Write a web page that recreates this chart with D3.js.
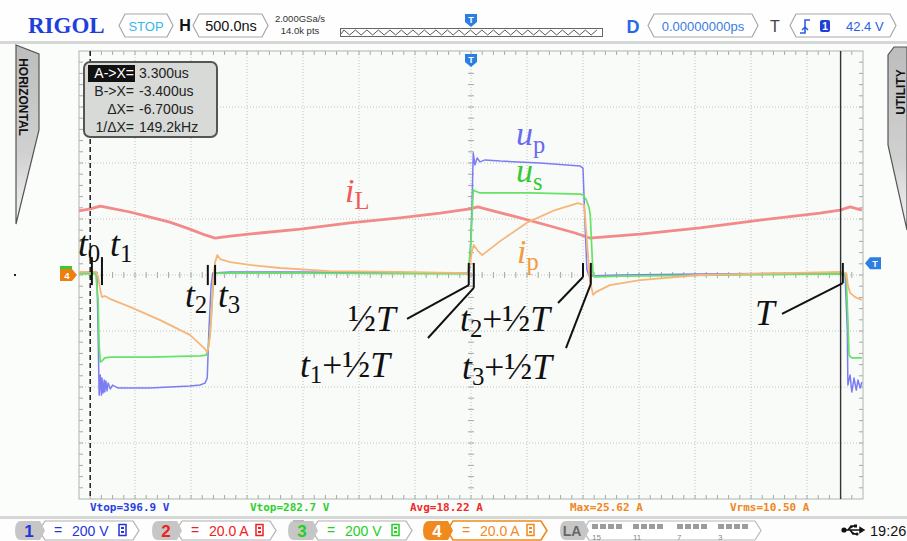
<!DOCTYPE html>
<html><head><meta charset="utf-8">
<script src="https://cdn.jsdelivr.net/npm/d3@7/dist/d3.min.js"></script>
<style>
html,body{margin:0;padding:0;background:#fff;}
svg{display:block;font-family:"Liberation Sans",Arial,sans-serif;}
</style></head><body>
<svg id="chart" width="907" height="541"></svg>
<script>
// ================= DATA (time in ns, voltages in V, currents in A) =================
const upT=[-3500,-3360,-3340,-3330,-3320,-3310,-3300,-3295,-3285,-3275,-3270,-3260,-3250,-3240,-3220,-3200,-3150,-3045,-2865,-2690,-2510,-2420,-2375,-2355,-2340,-2320,-2305,-2150,-1525,-635,-25,-10,10,20,35,55,80,125,260,615,975,1000,1020,1035,1055,1330,2045,3320,3340,3360,3365,3385,3400,3420,3440,3455,3475,3490];
const upV=[11,11,9,-196,-429,-357,-429,-368,-421,-375,-418,-379,-414,-386,-407,-393,-404,-404,-404,-400,-396,-393,-386,-368,-196,-36,7,11,11,7,7,25,268,436,393,418,404,411,407,400,389,382,161,18,-4,0,4,7,0,-196,-393,-357,-418,-368,-411,-375,-404,-382];

const usT=[-3500,-3350,-3330,-3320,-3310,-3295,-3270,-3220,-2865,-2420,-2365,-2350,-2330,-2310,-2295,-2275,-1525,-25,0,20,35,80,525,975,1000,1030,1055,1065,1075,1090,1115,1330,3295,3350,3365,3375,3400,3490];
const usV=[4,4,-89,-250,-311,-307,-296,-293,-293,-289,-286,-268,-214,-89,-4,7,7,4,125,304,300,293,293,289,286,268,239,214,125,0,-7,-4,4,-4,-161,-286,-296,-296];

const ipT=[-3500,-3350,-3330,-3310,-3295,-3270,-3220,-3045,-2775,-2510,-2375,-2355,-2340,-2320,-2305,-2285,-2265,-2240,-2150,-1975,-1705,-1260,-635,-25,-10,10,25,55,100,260,510,750,955,1010,1035,1060,1090,1115,1240,1510,2045,3295,3350,3365,3385,3430,3490];
const ipA=[1.1,1.1,-0.4,-5.4,-7.9,-7.5,-8.6,-11.4,-16.1,-21.4,-26.4,-27.5,-25,-16.1,-3.6,4.6,7.1,5.7,4.6,3.6,2.5,1.4,1.1,0.7,3.6,8.9,10.7,8.9,7.1,12.1,18.9,23.2,25.7,25,12.5,-1.8,-7.1,-6.1,-3.6,-1.8,0,1.1,0.7,-3.6,-6.4,-7.9,-8.9];

const iLT=[-3500,-3400,-3310,-3220,-3045,-2865,-2690,-2510,-2375,-2285,-2150,-1885,-1525,-1080,-635,-275,-10,60,170,440,705,930,1060,1195,1510,2045,2580,3115,3295,3385,3490];
const iLA=[22.9,23.6,24.6,23.9,22.5,20.7,18.9,16.4,14.3,13.2,13.9,15,16.4,18.6,20.4,22.1,23.6,24.3,23.2,20.4,17.5,15,13.2,13.6,14.6,16.8,19.6,22.1,23.2,24.3,23.2];

const measLabels=["Vtop=396.9 V","Vtop=282.7 V","Avg=18.22 A","Max=25.62 A","Vrms=10.50 A"];
const measColors=["#2b40e0","#2fcf2f","#f02a2a","#f0861e","#f0861e"];
const cursorLabels=["A->X=","B->X=","\u0394X=","1/\u0394X="];
const cursorValues=["3.300us","-3.400us","-6.700us","149.2kHz"];
const cursorA=3300, cursorB=-3400;
const trigLevelV=42.4;
const chanNames=["1","2","3","4"];
const chanScales=["200 V","20.0 A","200 V","20.0 A"];
const chanColors=["#2535d8","#f02020","#22d022","#f08a1e"];
const laNums=["15","11","7","3"];

// annotation anchors (time ns, value V on the voltage scale)
const markTimes=[-3385,-3295,-2350,-2285,-20,25,1000,1070,3320];
const markTop=[64,64,36,36,43,43,43,43,43];
const markBot=[-36,-36,-36,-36,-36,-46,-7,-32,-29];
const pointers=[ // from marker bottom to label
  [-20,-36,-571,-157],[25,-46,-384,-225],[1000,-7,777,-100],[1070,-32,848,-261],[3320,-29,2777,-139]];

// ================= SETUP =================
const svg=d3.select("#chart");
const W=907,H=541;
const L=79,R=863,T=51,B=499;
const x=d3.scaleLinear().domain([-3500,3500]).range([L,R]);
const yV=d3.scaleLinear().domain([-800,800]).range([B,T]);
const yA=d3.scaleLinear().domain([-80,80]).range([B,T]);

svg.append("rect").attr("width",W).attr("height",H).attr("fill","#fbfdfb");
svg.append("rect").attr("width",W).attr("height",41).attr("fill","#fefefe");
svg.append("rect").attr("y",41).attr("width",W).attr("height",3).attr("fill","#d6d8d6");
svg.append("rect").attr("y",516).attr("width",W).attr("height",3).attr("fill","#d6d8d6");
svg.append("rect").attr("y",519).attr("width",W).attr("height",22).attr("fill","#fdfdfd");

function hexBox(x0,y0,w,h,stroke,fill,sw){
  const k=6;
  return svg.append("path").attr("d",`M${x0+k},${y0}H${x0+w-k}L${x0+w},${y0+h/2}L${x0+w-k},${y0+h}H${x0+k}L${x0},${y0+h/2}Z`)
    .attr("fill",fill).attr("stroke",stroke).attr("stroke-width",sw||1);
}

// ================= TOP BAR =================
svg.append("text").attr("x",28).attr("y",33).attr("font-family","'Liberation Serif',serif").attr("font-weight","bold")
  .attr("font-size",23).attr("fill","#1e3fdc").text("RIGOL");
hexBox(119,14,54,23,"#a8a8a8","#fff",1.2);
svg.append("text").attr("x",146).attr("y",30.5).attr("text-anchor","middle").attr("font-size",13).attr("fill","#38b6ec").text("STOP");
svg.append("text").attr("x",185).attr("y",31).attr("text-anchor","middle").attr("font-size",16).attr("font-weight","bold").attr("fill","#111").text("H");
hexBox(193,14,75,23,"#a8a8a8","#fff",1.2);
svg.append("text").attr("x",231).attr("y",31).attr("text-anchor","middle").attr("font-size",14.5).attr("fill","#111").text("500.0ns");
svg.append("text").attr("x",300).attr("y",22).attr("text-anchor","middle").attr("font-size",9.5).attr("fill","#333").text("2.000GSa/s");
svg.append("text").attr("x",300).attr("y",34).attr("text-anchor","middle").attr("font-size",9.5).attr("fill","#333").text("14.0k pts");
svg.append("rect").attr("x",340.5).attr("y",28.5).attr("width",262).attr("height",8).attr("fill","#fff").attr("stroke","#666");
{
  let d="M341,34"; let up=true;
  for(let xx=341+2.9;xx<=602;xx+=5.75){ d+=`L${xx},${up?30:35}`; up=!up; }
  svg.append("path").attr("d",d).attr("fill","none").attr("stroke","#444").attr("stroke-width",0.9);
}
function tMarkDown(cx,y0){
  svg.append("path").attr("d",`M${cx-6},${y0}h12v8l-6,5l-6,-5z`).attr("fill","#2b7fe3");
  svg.append("text").attr("x",cx).attr("y",y0+9).attr("text-anchor","middle").attr("font-size",9).attr("font-weight","bold").attr("fill","#fff").text("T");
}
tMarkDown(x(0),14);
svg.append("text").attr("x",633).attr("y",33).attr("text-anchor","middle").attr("font-size",18).attr("font-weight","bold").attr("fill","#2a66e6").text("D");
hexBox(648,14,110,23,"#a8a8a8","#fff",1.2);
svg.append("text").attr("x",703).attr("y",31).attr("text-anchor","middle").attr("font-size",13).attr("fill","#3a7be2").text("0.00000000ps");
svg.append("text").attr("x",775).attr("y",32).attr("text-anchor","middle").attr("font-size",16).attr("fill","#444").text("T");
hexBox(790,14,106,23,"#a8a8a8","#fff",1.2);
svg.append("path").attr("d","M800,33h5v-13h5M805,27l-3,3M805,27l3,3").attr("fill","none").attr("stroke","#2a5fe0").attr("stroke-width",1.6);
svg.append("rect").attr("x",820).attr("y",20).attr("width",10).attr("height",12).attr("rx",2).attr("fill","#1f3fd8");
svg.append("text").attr("x",825).attr("y",30).attr("text-anchor","middle").attr("font-size",10).attr("font-weight","bold").attr("fill","#fff").text("1");
svg.append("text").attr("x",846).attr("y",31).attr("font-size",13).attr("fill","#2a5fe0").text(trigLevelV.toFixed(1)+" V");

// ================= SIDE TABS =================
const gdef=svg.append("defs");
const lg=gdef.append("linearGradient").attr("id","tabg").attr("x1",0).attr("y1",0).attr("x2",0).attr("y2",1);
lg.append("stop").attr("offset","0").attr("stop-color","#bdbdbd");
lg.append("stop").attr("offset","0.6").attr("stop-color","#d0d0d0");
lg.append("stop").attr("offset","1").attr("stop-color","#f4f4f4");
svg.append("path").attr("d","M16,45L39,54L39,130L16,224Z").attr("fill","url(#tabg)").attr("stroke","#555").attr("stroke-width",1.2);
svg.append("text").attr("transform","translate(23,97) rotate(90)").attr("text-anchor","middle").attr("dy","0.35em")
  .attr("font-size",12).attr("font-weight","bold").attr("fill","#111").text("HORIZONTAL");
svg.append("path").attr("d","M907,47L894,47L888,55L888,145L907,230Z").attr("fill","url(#tabg)").attr("stroke","#555").attr("stroke-width",1.2);
svg.append("text").attr("transform","translate(901,92) rotate(-90)").attr("text-anchor","middle").attr("dy","0.35em")
  .attr("font-size",12).attr("font-weight","bold").attr("fill","#111").text("UTILITY");
svg.append("rect").attr("x",14).attr("y",274).attr("width",2).attr("height",2).attr("fill","#222");

// ================= GRID =================
const grid=svg.append("g");
grid.append("rect").attr("x",L).attr("y",T).attr("width",R-L).attr("height",B-T).attr("fill","#f9fbf9");
const xDiv=d3.range(-3000,3001,500), yDiv=d3.range(-600,601,200);
grid.selectAll(".vg").data(xDiv).join("line").attr("x1",d=>x(d)).attr("x2",d=>x(d)).attr("y1",T).attr("y2",B)
  .attr("stroke","#c2c4c2").attr("stroke-dasharray","1,2");
grid.selectAll(".hg").data(yDiv).join("line").attr("y1",d=>yV(d)).attr("y2",d=>yV(d)).attr("x1",L).attr("x2",R)
  .attr("stroke","#c2c4c2").attr("stroke-dasharray","1,2");
const xMinor=d3.range(-3400,3401,100), yMinor=d3.range(-760,761,40);
const tk="#a6a8a6";
grid.selectAll(".cx").data(xMinor).join("line").attr("x1",d=>x(d)).attr("x2",d=>x(d)).attr("y1",yV(0)-3).attr("y2",yV(0)+3).attr("stroke",tk);
grid.selectAll(".cy").data(yMinor).join("line").attr("y1",d=>yV(d)).attr("y2",d=>yV(d)).attr("x1",x(0)-3).attr("x2",x(0)+3).attr("stroke",tk);
grid.selectAll(".tx").data(xMinor).join("line").attr("x1",d=>x(d)).attr("x2",d=>x(d)).attr("y1",T).attr("y2",T+4).attr("stroke",tk);
grid.selectAll(".bx").data(xMinor).join("line").attr("x1",d=>x(d)).attr("x2",d=>x(d)).attr("y1",B-4).attr("y2",B).attr("stroke",tk);
grid.selectAll(".ly").data(yMinor).join("line").attr("y1",d=>yV(d)).attr("y2",d=>yV(d)).attr("x1",L).attr("x2",L+4).attr("stroke",tk);
grid.selectAll(".ry").data(yMinor).join("line").attr("y1",d=>yV(d)).attr("y2",d=>yV(d)).attr("x1",R-4).attr("x2",R).attr("stroke",tk);
grid.append("rect").attr("x",L).attr("y",T).attr("width",R-L).attr("height",B-T).attr("fill","none").attr("stroke","#b2b4b2");

// ================= TRACES =================
gdef.append("clipPath").attr("id","clipG").append("rect").attr("x",L).attr("y",T).attr("width",R-L).attr("height",B-T);
const tr=svg.append("g").attr("clip-path","url(#clipG)");
function trace(ts,vs,ys,color,w){
  const line=d3.line().x((d,i)=>x(ts[i])).y((d,i)=>ys(vs[i]));
  tr.append("path").datum(ts).attr("d",line).attr("fill","none").attr("stroke",color).attr("stroke-width",w).attr("stroke-linejoin","round");
}
trace(iLT,iLA,yA,"#f28a8a",2.8);
trace(upT,upV,yV,"#7c7cf4",1.5);
trace(usT,usV,yV,"#66e266",1.7);
trace(ipT,ipA,yA,"#f6b67a",1.8);

// cursors
svg.append("line").attr("x1",x(cursorB)).attr("x2",x(cursorB)).attr("y1",T).attr("y2",B).attr("stroke","#111").attr("stroke-width",1.4).attr("stroke-dasharray","5,3");
svg.append("line").attr("x1",x(cursorA)).attr("x2",x(cursorA)).attr("y1",T).attr("y2",B).attr("stroke","#333").attr("stroke-width",1.4);

// markers on grid
tMarkDown(x(0),54);
const yTrig=yV(trigLevelV);
svg.append("path").attr("d",`M865,${yTrig}l5,-6h11v12h-11z`).attr("fill","#2b7fe3");
svg.append("text").attr("x",875).attr("y",yTrig+4).attr("text-anchor","middle").attr("font-size",9).attr("font-weight","bold").attr("fill","#fff").text("T");
const y0=yV(0);
svg.append("rect").attr("x",60).attr("y",y0-9).attr("width",12).attr("height",3).attr("fill","#33cc33");
svg.append("path").attr("d",`M60,${y0-6}h12l5,6l-5,6h-12z`).attr("fill","#f07d10");
svg.append("text").attr("x",67).attr("y",y0+4).attr("text-anchor","middle").attr("font-size",9.5).attr("font-weight","bold").attr("fill","#fff").text("4");

// ================= CURSOR BOX =================
svg.append("rect").attr("x",84).attr("y",62).attr("width",133).attr("height",75).attr("rx",6).attr("fill","#d8dad8").attr("stroke","#555").attr("stroke-width",2);
svg.append("rect").attr("x",88).attr("y",65).attr("width",47).attr("height",17).attr("fill","#111");
const cyBase=[78,96,114,132];
cursorLabels.forEach((s,i)=>{
  svg.append("text").attr("x",134).attr("y",cyBase[i]).attr("text-anchor","end").attr("font-size",14).attr("fill",i===0?"#fff":"#222").text(s);
  svg.append("text").attr("x",139).attr("y",cyBase[i]).attr("font-size",14).attr("fill","#222").text(cursorValues[i]);
});

// ================= ANNOTATIONS =================
const ann=svg.append("g");
markTimes.forEach((t,i)=>{
  ann.append("line").attr("x1",x(t)).attr("x2",x(t)).attr("y1",yV(markTop[i])).attr("y2",yV(markBot[i])).attr("stroke","#111").attr("stroke-width",2);
});
pointers.forEach(p=>{
  ann.append("line").attr("x1",x(p[0])).attr("y1",yV(p[1])).attr("x2",x(p[2])).attr("y2",yV(p[3])).attr("stroke","#111").attr("stroke-width",2);
});
const SERIF="'Liberation Serif','Times New Roman',serif";
function mathLabel(t,v,parts,size,color){
  const el=ann.append("text").attr("x",x(t)).attr("y",yV(v)).attr("font-family",SERIF).attr("font-size",size).attr("fill",color);
  let shift=0;
  parts.forEach(p=>{
    const [s,kind]=p;
    const ts=el.append("tspan").text(kind==="half"?"\u00BD":s);
    let target=0, fs=size;
    if(kind==="sub"){ target=size*0.17; fs=size*0.7; }
    if(kind==="psub"){ target=size*0.22; fs=size*0.72; }
    if(kind==="half"){ fs=size*1.05; }
    ts.attr("font-size",fs).attr("dy",target-shift);
    if(kind==="i") ts.attr("font-style","italic");
    shift=target;
  });
}
const S=35.5;
mathLabel(-3509,68,[["t","i"],["0","sub"]],S,"#111");
mathLabel(-3223,68,[["t","i"],["1","sub"]],S,"#111");
mathLabel(-2554,-114,[["t","i"],["2","sub"]],S,"#111");
mathLabel(-2259,-114,[["t","i"],["3","sub"]],S,"#111");
mathLabel(-1098,-200,[["","half"],["T","i"]],S,"#111");
mathLabel(-1527,-365,[["t","i"],["1","sub"],["+","n"],["","half"],["T","i"]],S,"#111");
mathLabel(-98,-200,[["t","i"],["2","sub"],["+","n"],["","half"],["T","i"]],S,"#111");
mathLabel(-80,-372,[["t","i"],["3","sub"],["+","n"],["","half"],["T","i"]],S,"#111");
mathLabel(2536,-179,[["T","i"]],S,"#111");
mathLabel(-1125,261,[["i","i"],["L","psub"]],34,"#f25858");
mathLabel(402,464,[["u","i"],["p","psub"]],34,"#6a6af0");
mathLabel(402,332,[["u","i"],["s","psub"]],34,"#36c836");
mathLabel(411,43,[["i","i"],["p","psub"]],34,"#f59a40");

// ================= MEASUREMENTS =================
measLabels.forEach((s,i)=>{
  svg.append("text").attr("x",90+160*i).attr("y",511).attr("font-family","'DejaVu Sans Mono',monospace").attr("font-weight","bold")
    .attr("font-size",11).attr("fill",measColors[i]).text(s);
});

// ================= BOTTOM BAR =================
const chanX=[15,152,288,423];
chanNames.forEach((n,i)=>{
  const x0=chanX[i];
  const col=chanColors[i];
  const isActive=i===3;
  hexBox(x0+24,521,100,19,isActive?col:"#b0b0b0","#fff",isActive?1.6:1.2);
  svg.append("path").attr("d",`M${x0+6},521H${x0+25}L${x0+30},530.5L${x0+25},540H${x0+6}Q${x0},540 ${x0},530.5Q${x0},521 ${x0+6},521Z`)
    .attr("fill",isActive?col:"#c6c6c6");
  svg.append("text").attr("x",x0+14).attr("y",537).attr("text-anchor","middle").attr("font-size",17).attr("font-weight","bold")
    .attr("fill",isActive?"#fff":col).text(n);
  svg.append("text").attr("x",x0+43).attr("y",535).attr("text-anchor","middle").attr("font-size",14).attr("fill",col).text("=");
  svg.append("text").attr("x",x0+57).attr("y",536).attr("font-size",14).attr("fill",col).text(chanScales[i]);
  svg.append("rect").attr("x",x0+104).attr("y",524.5).attr("width",7).attr("height",11).attr("fill","none").attr("stroke",col).attr("stroke-width",1.5);
  svg.append("rect").attr("x",x0+106).attr("y",527).attr("width",3).attr("height",2).attr("fill",col);
  svg.append("rect").attr("x",x0+106).attr("y",531).attr("width",3).attr("height",2).attr("fill",col);
});
svg.append("rect").attr("x",293).attr("y",520).attr("width",11).attr("height",2).attr("fill","#bbb");
// LA
hexBox(583,521,178,19,"#b8b8b8","#fff",1.2);
svg.append("path").attr("d","M566,521H584L589,530.5L584,540H566Q560,540 560,530.5Q560,521 566,521Z").attr("fill","#c6c6c6");
svg.append("text").attr("x",572).attr("y",536).attr("text-anchor","middle").attr("font-size",14).attr("font-weight","bold").attr("fill","#666").text("LA");
const laX=[592,633,677,718];
laX.forEach((gx,gi)=>{
  for(let k=0;k<4;k++) svg.append("rect").attr("x",gx+k*8).attr("y",524).attr("width",6).attr("height",5).attr("fill","#9c9c9c");
  svg.append("text").attr("x",gx).attr("y",539.5).attr("font-size",8).attr("fill","#888").text(laNums[gi]);
});
// USB + time
svg.append("circle").attr("cx",844).attr("cy",530).attr("r",2.6).attr("fill","#111");
svg.append("path").attr("d","M844,530H860M860,527.5L864,530L860,532.5Z M848,530L851,526H855 M850,530L853,534H856").attr("fill","#111").attr("stroke","#111").attr("stroke-width",1.4);
svg.append("rect").attr("x",854).attr("y",524.5).attr("width",3).attr("height",3).attr("fill","#111");
svg.append("circle").attr("cx",857).attr("cy",534).attr("r",1.6).attr("fill","#111");
svg.append("text").attr("x",870).attr("y",536).attr("font-size",14.5).attr("fill","#111").text("19:26");
</script>
</body></html>
